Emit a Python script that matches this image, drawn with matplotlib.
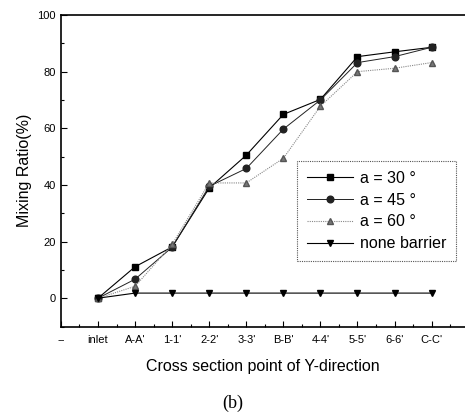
import matplotlib
matplotlib.use("Agg")
import matplotlib.pyplot as plt
from matplotlib.ticker import MultipleLocator

plt.rcParams['font.family'] = ['Liberation Sans', 'DejaVu Sans']

# categories along the channel
sections = ["--", "inlet", "A-A'", "1-1'", "2-2'", "3-3'", "B-B'",
            "4-4'", "5-5'", "6-6'", "C-C'"]
pos = list(range(1, 11))  # data starts at "inlet"

# mixing ratio (%)
a30 = [0, 11.1, 18.1, 38.9, 50.5, 64.9, 70.2, 85.3, 87.0, 88.6]
a45 = [0, 6.7, 18.0, 39.5, 45.8, 59.7, 70.0, 83.2, 85.3, 88.6]
a60 = [0, 4.2, 19.0, 40.7, 40.7, 49.4, 67.8, 80.0, 81.2, 83.2]
none_barrier = [0, 1.8, 1.8, 1.8, 1.8, 1.8, 1.8, 1.8, 1.8, 1.8]

fig = plt.figure(figsize=(4.65, 4.17), dpi=100)
ax = fig.add_axes([0.131, 0.217, 0.869, 0.747])

ax.plot(pos, a30, color='black', lw=0.8, marker='s', ms=4.5, label='a = 30 \u00b0')
ax.plot(pos, a45, color='#222222', lw=0.7, marker='o', ms=4.8, label='a = 45 \u00b0')
ax.plot(pos, a60, color='#888888', lw=0.8, ls=(0, (1, 1)), marker='^', ms=4.8,
        markerfacecolor='#777777', markeredgecolor='#555555', label='a = 60 \u00b0')
ax.plot(pos, none_barrier, color='black', lw=0.8, marker='v', ms=5, label='none barrier')

ax.set_xlim(0, 10.9)
ax.set_ylim(-10, 100)
ax.set_xticks(range(len(sections)))
ax.set_xticklabels(sections, fontsize=8)
ax.xaxis.set_minor_locator(MultipleLocator(0.5))
ax.yaxis.set_major_locator(MultipleLocator(20))
ax.yaxis.set_minor_locator(MultipleLocator(10))
ax.tick_params(which='both', direction='in', labelsize=8)
ax.tick_params(which='major', length=4, width=0.8)
ax.tick_params(which='minor', length=2, width=0.8)
ax.tick_params(axis='x', pad=6)
ax.spines['right'].set_visible(False)
for s in ['left', 'bottom', 'top']:
    ax.spines[s].set_linewidth(1.2)

ax.set_ylabel('Mixing Ratio(%)', fontsize=11.5, labelpad=4)
ax.set_xlabel('Cross section point of Y-direction', fontsize=11.5, labelpad=10)

leg = ax.legend(loc='upper left', bbox_to_anchor=(0.585, 0.53), fontsize=11.5,
                handlelength=2.9, fancybox=False, framealpha=1,
                borderpad=0.6, labelspacing=0.42, handletextpad=0.4,
                borderaxespad=0)
leg.get_frame().set_edgecolor('#555555')
leg.get_frame().set_linestyle((0, (1, 1)))
leg.get_frame().set_linewidth(0.8)

fig.text(0.5, 0.022, '(b)', ha='center', fontsize=13,
         family=['Liberation Serif', 'DejaVu Serif'])

fig.savefig('out.png', dpi=100)
